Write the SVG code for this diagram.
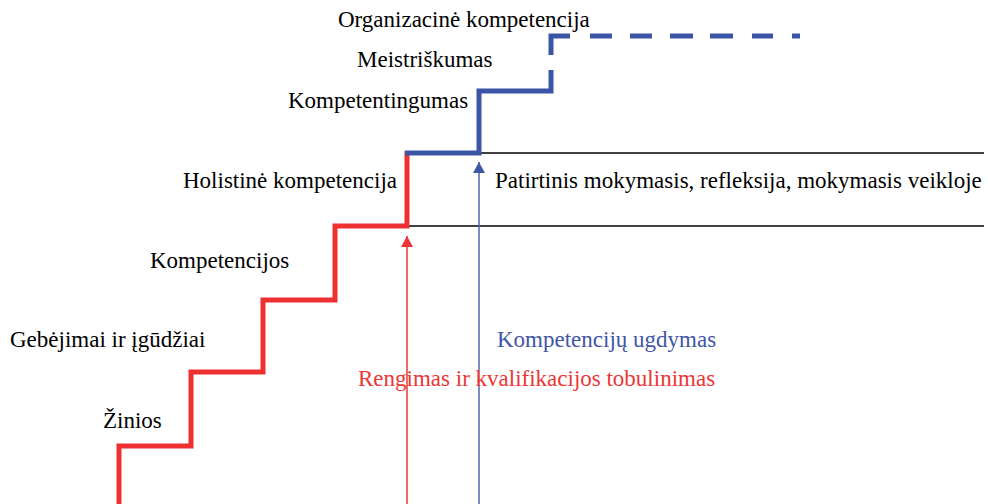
<svg xmlns="http://www.w3.org/2000/svg" width="988" height="504" viewBox="0 0 988 504">
<style>
text{font-family:"Liberation Serif","Times New Roman",serif;font-size:23px;fill:#000}
.red{fill:#EE3535}
.blue{fill:#3F56A6}
.stairR{fill:none;stroke:#EE3030;stroke-width:5;stroke-linejoin:miter}
.stairB{fill:none;stroke:#3A55A5;stroke-width:5;stroke-linejoin:miter}
.rule{stroke:#000;stroke-width:1.3}
</style>
<defs>
<marker id="ahR" markerWidth="12" markerHeight="12" refX="11" refY="6" orient="auto" markerUnits="userSpaceOnUse" viewBox="0 0 12 12"><path d="M0,0 L11,6 L0,12 Z" fill="#EE3535"/></marker>
<marker id="ahB" markerWidth="12" markerHeight="12" refX="11" refY="6" orient="auto" markerUnits="userSpaceOnUse" viewBox="0 0 12 12"><path d="M0,0 L11,6 L0,12 Z" fill="#3F56A6"/></marker>
</defs>
<g id="connectors">
<line class="rule" x1="407" y1="153" x2="984" y2="153"/>
<line class="rule" x1="407" y1="226" x2="984" y2="226"/>
<path class="stairR" d="M119,504 V446 H191 V372 H263 V300 H335 V226 H407 V151"/>
<path class="stairB" d="M405,153 H479 V91 H551 V70"/>
<path class="stairB" d="M551,55 V36 H570 M590,36 H612 M630,36 H652 M670,36 H693 M710,36 H733 M752,36 H773 M792,36 H800"/>
<line x1="407" y1="504" x2="407" y2="236" stroke="#EE3535" stroke-width="1.5" marker-end="url(#ahR)"/>
<line x1="479" y1="504" x2="479" y2="162" stroke="#5068B0" stroke-width="1.5" marker-end="url(#ahB)"/>
</g>
<g id="n-organizacine"><text x="338" y="27">Organizacinė kompetencija</text></g>
<g id="n-meistriskumas"><text x="357" y="67">Meistriškumas</text></g>
<g id="n-kompetentingumas"><text x="288" y="108">Kompetentingumas</text></g>
<g id="n-holistine"><text x="183" y="188">Holistinė kompetencija</text></g>
<g id="n-patirtinis"><text x="495" y="188">Patirtinis mokymasis, refleksija, mokymasis veikloje</text></g>
<g id="n-kompetencijos"><text x="150" y="268">Kompetencijos</text></g>
<g id="n-gebejimai"><text x="10" y="347">Gebėjimai ir įgūdžiai</text></g>
<g id="n-zinios"><text x="103" y="428">Žinios</text></g>
<g id="n-ugdymas"><text class="blue" x="497" y="347">Kompetencijų ugdymas</text></g>
<g id="n-rengimas"><text class="red" x="358" y="386">Rengimas ir kvalifikacijos tobulinimas</text></g>
</svg>
